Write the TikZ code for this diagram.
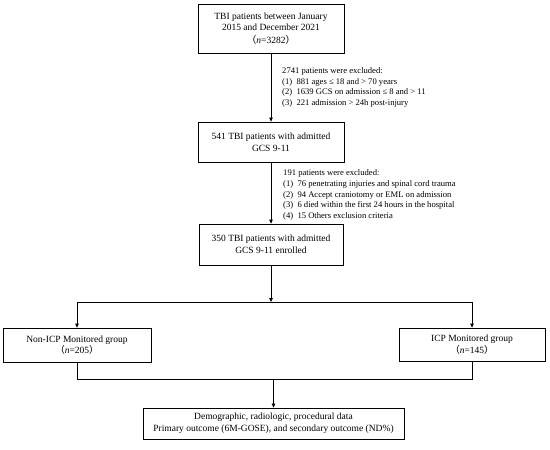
\documentclass[tikz,border=0pt]{standalone}
\usepackage{fontspec}
\setmainfont{Liberation Serif}
\newfontfamily\cjk{Noto Sans CJK TC}
\usetikzlibrary{arrows.meta}

\begin{document}
\begin{tikzpicture}[x=1pt,y=-1pt,
    box/.style={draw,line width=0.8pt,align=center,inner sep=2pt,
      font=\fontsize{9.5}{11.6}\selectfont},
    note/.style={align=left,anchor=west,inner sep=0pt,
      font=\fontsize{8.6}{10.6}\selectfont},
    arr/.style={line width=0.8pt,-{Triangle[length=4pt,width=3.6pt]}},
    ln/.style={line width=0.8pt}]
  \useasboundingbox (0,0) rectangle (550,450);
  % boxes
  \node[box,minimum width=146pt,minimum height=49pt] (screened) at (271,28.5)
    {TBI patients between January\\2015 and December 2021\\[1pt]{\cjk （}\textit{n}=3282{\cjk ）}};
  \node[box,minimum width=146pt,minimum height=40pt] (admitted) at (271,142)
    {541 TBI patients with admitted\\GCS 9-11};
  \node[box,minimum width=144pt,minimum height=41pt] (enrolled) at (271,244.5)
    {350 TBI patients with admitted\\GCS 9-11 enrolled};
  \node[box,minimum width=148pt,minimum height=34pt] (nonicp) at (77,345)
    {Non-ICP Monitored group\\{\cjk （}\textit{n}=205{\cjk ）}};
  \node[box,minimum width=146pt,minimum height=33pt] (icp) at (472,344.5)
    {ICP Monitored group\\{\cjk （}\textit{n}=145{\cjk ）}};
  \node[box,minimum width=261pt,minimum height=31pt] (outcome) at (273.5,423.5)
    {Demographic, radiologic, procedural data\\Primary outcome (6M-GOSE), and secondary outcome (ND\%)};
  % exclusions
  \node[note] (excl1) at (282,87.5)
    {2741 patients were excluded:\\
     (1)~~881 ages ≤ 18 and > 70 years\\
     (2)~~1639 GCS on admission ≤ 8 and > 11\\
     (3)~~221 admission > 24h post-injury};
  \node[note] (excl2) at (283,195)
    {191 patients were excluded:\\
     (1)~~76 penetrating injuries and spinal cord trauma\\
     (2)~~94 Accept craniotomy or EML on admission\\
     (3)~~6 died within the first 24 hours in the hospital\\
     (4)~~15 Others exclusion criteria};
  % split and merge points
  \coordinate (split) at (271,302);
  \coordinate (merge) at (273.5,379);
  \draw[arr] (screened) -- (admitted);
  \draw[arr] (admitted) -- (enrolled);
  \draw[arr] (enrolled) -- (split);
  \draw[arr] (split) -| (nonicp);
  \draw[arr] (split) -| (icp);
  \draw[ln] (nonicp) |- (merge);
  \draw[ln] (icp) |- (merge);
  \draw[arr] (merge) -- (outcome);
\end{tikzpicture}
\end{document}
